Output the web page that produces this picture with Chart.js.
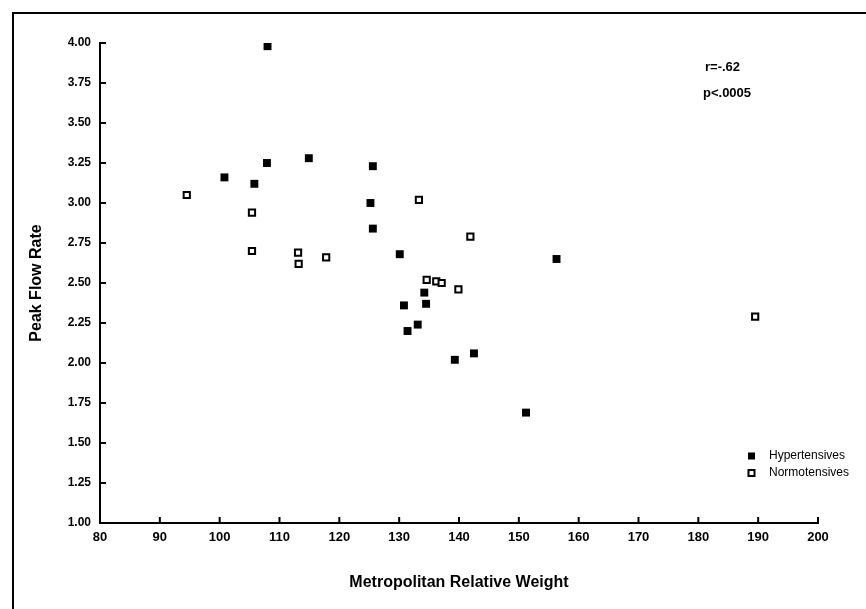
<!DOCTYPE html>
<html>
<head>
<meta charset="utf-8">
<script src="https://cdn.jsdelivr.net/npm/chart.js@4"></script>
<style>
  html, body { margin: 0; padding: 0; background: #fff; }
  canvas { display: block; }
</style>
</head>
<body>
<canvas id="flowChart" width="866" height="609"></canvas>
<script>
// values
const hyperWeight = [108.0, 107.9, 100.8, 105.8, 114.9, 125.6, 125.2, 125.6, 130.1, 156.3, 134.2, 134.5, 130.8, 133.1, 131.4, 142.5, 139.3, 151.2];
const hyperFlow   = [3.98, 3.25, 3.16, 3.12, 3.28, 3.23, 3.00, 2.84, 2.68, 2.65, 2.44, 2.37, 2.36, 2.24, 2.20, 2.06, 2.02, 1.69];
const normoWeight = [94.5, 105.4, 105.4, 113.1, 113.2, 117.8, 133.3, 141.9, 134.6, 136.2, 137.1, 139.9, 189.5];
const normoFlow   = [3.05, 2.94, 2.70, 2.69, 2.62, 2.66, 3.02, 2.79, 2.52, 2.51, 2.50, 2.46, 2.29];
const groupNames  = ['Hypertensives', 'Normotensives'];
const statLines   = ['r=-.62', 'p<.0005'];
const xTicks = [80, 200, 10];    // min, max, step
const yTicks = [1.00, 4.00, 0.25];

const FONT = '"Liberation Sans", Arial, Helvetica, sans-serif';

function toPoints(xs, ys) {
    return xs.map(function (x, i) { return { x: x, y: ys[i] }; });
}

// frame, inward ticks, legend and r/p note
const extras = {
    id: 'extras',
    beforeDraw: function (chart) {
        const ctx = chart.ctx;
        ctx.save();
        ctx.strokeStyle = '#000';
        ctx.lineWidth = 2;
        ctx.beginPath();
        ctx.moveTo(13, 609);
        ctx.lineTo(13, 13);
        ctx.lineTo(866, 13);
        ctx.stroke();
        ctx.restore();
    },
    afterDraw: function (chart) {
        const ctx = chart.ctx;
        const xs = chart.scales.x, ys = chart.scales.y;
        const area = chart.chartArea;
        ctx.save();
        ctx.strokeStyle = '#000';
        ctx.lineWidth = 2;
        ctx.beginPath();
        xs.ticks.forEach(function (t) {
            const px = xs.getPixelForValue(t.value);
            ctx.moveTo(px, area.bottom);
            ctx.lineTo(px, area.bottom - 6);
        });
        ys.ticks.forEach(function (t) {
            const py = ys.getPixelForValue(t.value);
            ctx.moveTo(area.left, py);
            ctx.lineTo(area.left + 6, py);
        });
        ctx.stroke();

        // legend
        ctx.font = '12px ' + FONT;
        ctx.fillStyle = '#000';
        ctx.textBaseline = 'middle';
        chart.data.datasets.forEach(function (ds, i) {
            const ly = 456 + i * 17;
            if (ds.backgroundColor === '#000') {
                ctx.fillRect(748, ly - 3.5, 7, 7);
            } else {
                ctx.lineWidth = 2;
                ctx.strokeRect(748.5, ly - 3, 6, 6);
            }
            ctx.fillText(ds.label, 769, ly);
        });

        // correlation note
        ctx.font = 'bold 13px ' + FONT;
        ctx.fillText(statLines[0], 705, 67);
        ctx.fillText(statLines[1], 703, 93);
        ctx.restore();
    }
};

const ctx = document.getElementById('flowChart').getContext('2d');
const flowChart = new Chart(ctx, {
    type: 'scatter',
    data: {
        datasets: [{
            label: groupNames[0],
            data: toPoints(hyperWeight, hyperFlow),
            pointStyle: 'rect',
            pointRadius: 5.6,
            backgroundColor: '#000',
            borderColor: '#000',
            borderWidth: 0
        }, {
            label: groupNames[1],
            data: toPoints(normoWeight, normoFlow),
            pointStyle: 'rect',
            pointRadius: 4.4,
            backgroundColor: '#fff',
            borderColor: '#000',
            borderWidth: 2
        }]
    },
    options: {
        responsive: false,
        animation: false,
        events: [],
        layout: { padding: { top: 43, right: 48, left: 0, bottom: 0 } },
        plugins: {
            legend: { display: false },
            tooltip: { enabled: false }
        },
        scales: {
            x: {
                type: 'linear',
                min: xTicks[0],
                max: xTicks[1],
                afterFit: function (scale) { scale.height = 86; },
                grid: { display: false, drawTicks: false },
                border: { display: true, color: '#000', width: 2 },
                ticks: {
                    stepSize: xTicks[2],
                    padding: 7,
                    color: '#000',
                    font: { family: FONT, size: 13, weight: 'bold' }
                },
                title: {
                    display: true,
                    text: 'Metropolitan Relative Weight',
                    color: '#000',
                    padding: { top: 0, bottom: 17 },
                    font: { family: FONT, size: 16, weight: 'bold' }
                }
            },
            y: {
                type: 'linear',
                min: yTicks[0],
                max: yTicks[1],
                afterFit: function (scale) { scale.width = 100; },
                grid: { display: false, drawTicks: false },
                border: { display: true, color: '#000', width: 2 },
                ticks: {
                    stepSize: yTicks[2],
                    padding: 9,
                    color: '#000',
                    font: { family: FONT, size: 12, weight: 'bold' },
                    callback: function (v) { return v.toFixed(2); }
                },
                title: {
                    display: true,
                    text: 'Peak Flow Rate',
                    color: '#000',
                    padding: { top: 27, bottom: 0 },
                    font: { family: FONT, size: 16, weight: 'bold' }
                }
            }
        }
    },
    plugins: [extras]
});
</script>
</body>
</html>
